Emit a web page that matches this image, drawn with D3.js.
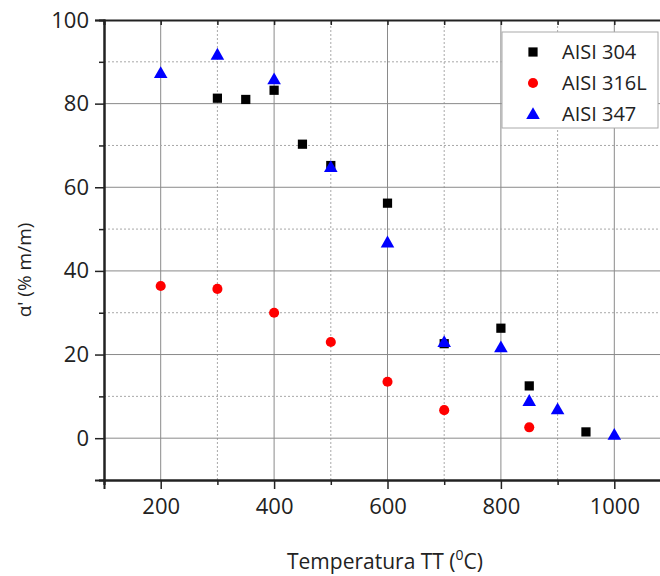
<!DOCTYPE html>
<html>
<head>
<meta charset="utf-8">
<script src="https://cdn.jsdelivr.net/npm/d3@7"></script>
<style>
  body { margin: 0; background: #fff; }
  svg { font-family: "Open Sans", sans-serif; }
  .axis text { font-size: 22px; font-family: "Open Sans", sans-serif; fill: #222; }
</style>
</head>
<body>
<div id="chart"></div>
<script>
// data
const aisi304T = [300, 350, 400, 450, 500, 600, 700, 800, 850, 950];
const aisi304V = [81.3, 81, 83.2, 70.3, 65.2, 56.2, 22.6, 26.3, 12.5, 1.5];
const aisi316T = [200, 300, 400, 500, 600, 700, 850];
const aisi316V = [36.4, 35.7, 30, 23, 13.5, 6.7, 2.6];
const aisi347T = [200, 300, 400, 500, 600, 700, 800, 850, 900, 1000];
const aisi347V = [87.3, 91.7, 85.8, 64.8, 46.8, 23, 21.7, 8.9, 6.9, 0.8];
const seriesNames = ["AISI 304", "AISI 316L", "AISI 347"];
const xTicks = [200, 400, 600, 800, 1000];
const yTicks = [0, 20, 40, 60, 80, 100];

const width = 660, height = 576;
const margin = { top: 20, left: 104, bottom: 96 };
const plotH = height - margin.top - margin.bottom;

const svg = d3.select("#chart").append("svg")
  .attr("width", width).attr("height", height);

const x = d3.scaleLinear().domain([100, 1100]).range([margin.left, margin.left + 567]);
const y = d3.scaleLinear().domain([-10, 100]).range([margin.top + plotH, margin.top]);

const minorX = d3.range(100, 1101, 100);
const minorY = d3.range(-10, 101, 10);

// grid
const grid = svg.append("g");
grid.selectAll(".gx").data(minorX.filter(d => d > 100)).enter().append("line")
  .attr("x1", d => x(d)).attr("x2", d => x(d))
  .attr("y1", y(-10)).attr("y2", y(100))
  .attr("stroke", d => d % 200 === 0 ? "#8a8a8a" : "#a8a8a8")
  .attr("stroke-width", 1)
  .attr("stroke-dasharray", d => d % 200 === 0 ? null : "2,2");
grid.selectAll(".gy").data(minorY.filter(d => d > -10 && d < 100)).enter().append("line")
  .attr("x1", x(100)).attr("x2", width)
  .attr("y1", d => y(d)).attr("y2", d => y(d))
  .attr("stroke", d => d % 20 === 0 ? "#8a8a8a" : "#a8a8a8")
  .attr("stroke-width", 1)
  .attr("stroke-dasharray", d => d % 20 === 0 ? null : "2,2");

// axes
const axB = svg.append("g").attr("class", "axis").attr("transform", `translate(0,${y(-10)})`)
  .call(d3.axisBottom(x).tickValues(xTicks).tickSize(9).tickFormat(d3.format("d")));
const axBm = svg.append("g").attr("class", "axis").attr("transform", `translate(0,${y(-10)})`)
  .call(d3.axisBottom(x).tickValues(minorX.filter(d => d % 200 !== 0)).tickSize(5).tickFormat(""));
const axT = svg.append("g").attr("class", "axis").attr("transform", `translate(0,${y(100)})`)
  .call(d3.axisBottom(x).tickValues(minorX).tickSize(5).tickFormat(""));
const axL = svg.append("g").attr("class", "axis").attr("transform", `translate(${x(100)},0)`)
  .call(d3.axisLeft(y).tickValues(yTicks).tickSize(9).tickFormat(d3.format("d")));
const axLm = svg.append("g").attr("class", "axis").attr("transform", `translate(${x(100)},0)`)
  .call(d3.axisLeft(y).tickValues(minorY.filter(d => d % 20 !== 0)).tickSize(5).tickFormat(""));

[axB, axBm, axT, axL, axLm].forEach(g => {
  g.attr("font-size", 22).attr("font-family", "Open Sans");
  g.select(".domain").attr("stroke", "#222").attr("stroke-width", 2);
  g.selectAll(".tick line").attr("stroke", "#222").attr("stroke-width", 1.5);
});
axB.selectAll(".tick text").attr("dy", "1em");
axL.selectAll(".tick text").attr("x", -15);

// markers
const pts304 = aisi304T.map((t, i) => ({ t, v: aisi304V[i] }));
const pts316 = aisi316T.map((t, i) => ({ t, v: aisi316V[i] }));
const pts347 = aisi347T.map((t, i) => ({ t, v: aisi347V[i] }));

const sq = d3.symbol().type(d3.symbolSquare).size(85);
const ci = d3.symbol().type(d3.symbolCircle).size(80);
const tr = d3.symbol().type(d3.symbolTriangle).size(80);

svg.append("g").selectAll("path").data(pts304).enter().append("path")
  .attr("d", sq).attr("fill", "#000")
  .attr("transform", d => `translate(${x(d.t)},${y(d.v)})`);
svg.append("g").selectAll("path").data(pts316).enter().append("path")
  .attr("d", ci).attr("fill", "#ff0000")
  .attr("transform", d => `translate(${x(d.t)},${y(d.v)})`);
svg.append("g").selectAll("path").data(pts347).enter().append("path")
  .attr("d", tr).attr("fill", "#0000ff")
  .attr("transform", d => `translate(${x(d.t)},${y(d.v) + 1})`);

// legend
const leg = svg.append("g").attr("transform", "translate(502,32)");
leg.append("rect").attr("width", 156).attr("height", 96)
  .attr("fill", "#fff").attr("stroke", "#aaa").attr("stroke-width", 1);
const legSyms = [sq, ci, tr];
const legCols = ["#000", "#ff0000", "#0000ff"];
seriesNames.forEach((name, i) => {
  const row = leg.append("g").attr("transform", `translate(0,${20 + i * 31})`);
  row.append("path").attr("d", legSyms[i]).attr("fill", legCols[i])
    .attr("transform", `translate(31,${i === 2 ? 1 : 0})`);
  row.append("text").attr("x", 60).attr("y", 7).attr("fill", "#222")
    .style("font-size", "20px").text(name);
});

// axis titles
const xt = svg.append("text").attr("x", 385).attr("y", 569)
  .attr("text-anchor", "middle").attr("fill", "#222").style("font-size", "21px");
xt.append("tspan").text("Temperatura TT (");
xt.append("tspan").attr("dy", -9).style("font-size", "14px").text("0");
xt.append("tspan").attr("dy", 9).text("C)");

svg.append("text")
  .attr("transform", "translate(31,270) rotate(-90)")
  .attr("text-anchor", "middle").attr("fill", "#222").style("font-size", "19px")
  .text("α' (% m/m)");
</script>
</body>
</html>
